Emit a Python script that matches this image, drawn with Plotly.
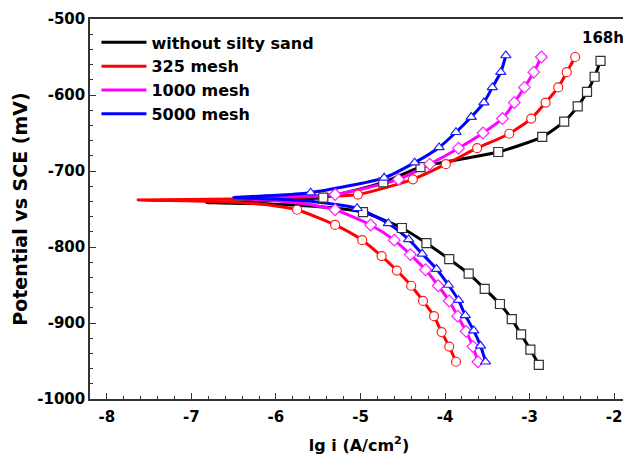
import plotly.graph_objects as go

# ---- data (lg i in A/cm^2, potential in mV vs SCE) ----
names = ["without silty sand", "325 mesh", "1000 mesh", "5000 mesh"]
colors = ["#000000", "#ff0000", "#ff00ff", "#0000ff"]
marker_colors = ["#333333", "#ff2020", "#ff20ff", "#2020ff"]
symbols = ["square", "circle", "diamond", "triangle-up"]

# full polarization lines (cathodic bottom -> Ecorr tail -> anodic top)
line_x_black = [-2.89, -2.99, -3.10, -3.21, -3.35, -3.53, -3.72, -3.95, -4.22, -4.51, -4.97, -5.2, -5.6, -6.2, -6.82,
                -6.3, -5.9, -5.44, -4.73, -4.29, -3.37, -2.85, -2.59, -2.43, -2.32, -2.23, -2.16]
line_y_black = [-955, -935, -915, -895, -875, -855, -835, -816, -795, -775, -754, -750, -746, -743, -741.5,
                -740, -738, -735, -715, -695, -675, -655, -635, -615, -596, -576, -555]

line_x_red = [-3.87, -3.95, -4.04, -4.13, -4.26, -4.40, -4.57, -4.75, -4.98, -5.30, -5.75, -6.0, -6.5, -7.63,
              -6.5, -6.0, -5.5, -5.03, -4.38, -3.99, -3.62, -3.24, -2.98, -2.81, -2.66, -2.56, -2.46]
line_y_red = [-951, -931, -912, -891, -871, -851, -831, -812, -791, -771, -751, -746, -741, -738,
              -737, -735.5, -733.5, -731, -711, -691, -670, -651, -631, -610, -590, -570, -550]

line_x_mag = [-3.61, -3.67, -3.75, -3.85, -3.95, -4.08, -4.23, -4.41, -4.60, -4.88, -5.30, -5.6, -6.0, -6.45,
              -5.9, -5.30, -4.55, -4.18, -3.84, -3.55, -3.32, -3.18, -3.06, -2.95, -2.86]
line_y_mag = [-951, -931, -911, -891, -871, -851, -830, -810, -791, -771, -751, -744, -739, -736,
              -734, -731, -711, -691, -670, -650, -631, -610, -590, -570, -550]

line_x_blue = [-3.52, -3.58, -3.66, -3.76, -3.84, -3.96, -4.10, -4.27, -4.43, -4.67, -5.04, -5.5, -6.0, -6.5,
               -6.0, -5.59, -4.72, -4.36, -4.07, -3.87, -3.69, -3.54, -3.44, -3.34, -3.28]
line_y_blue = [-951, -930, -910, -890, -870, -850, -829, -809, -790, -769, -749, -741, -737, -735,
               -732, -728.5, -709, -689, -669, -649, -629, -610, -590, -570, -548]

# marker points
mk_x_black = [-2.89, -2.99, -3.10, -3.21, -3.35, -3.53, -3.72, -3.95, -4.22, -4.51, -4.97,
              -5.44, -4.73, -4.29, -3.37, -2.85, -2.59, -2.43, -2.32, -2.23, -2.16]
mk_y_black = [-955, -935, -915, -895, -875, -855, -835, -816, -795, -775, -754,
              -735, -715, -695, -675, -655, -635, -615, -596, -576, -555]
mk_x_red = [-3.87, -3.95, -4.04, -4.13, -4.26, -4.40, -4.57, -4.75, -4.98, -5.30, -5.75,
            -5.03, -4.38, -3.99, -3.62, -3.24, -2.98, -2.81, -2.66, -2.56, -2.46]
mk_y_red = [-951, -931, -912, -891, -871, -851, -831, -812, -791, -771, -751,
            -731, -711, -691, -670, -651, -631, -610, -590, -570, -550]
mk_x_mag = [-3.61, -3.67, -3.75, -3.85, -3.95, -4.08, -4.23, -4.41, -4.60, -4.88, -5.30,
            -5.30, -4.55, -4.18, -3.84, -3.55, -3.32, -3.18, -3.06, -2.95, -2.86]
mk_y_mag = [-951, -931, -911, -891, -871, -851, -830, -810, -791, -771, -751,
            -731, -711, -691, -670, -650, -631, -610, -590, -570, -550]
mk_x_blue = [-3.52, -3.58, -3.66, -3.76, -3.84, -3.96, -4.10, -4.27, -4.43, -4.67, -5.04,
             -5.59, -4.72, -4.36, -4.07, -3.87, -3.69, -3.54, -3.44, -3.34, -3.28]
mk_y_blue = [-951, -930, -910, -890, -870, -850, -829, -809, -790, -769, -749,
             -728.5, -709, -689, -669, -649, -629, -610, -590, -570, -548]

lines = [(line_x_black, line_y_black), (line_x_red, line_y_red),
         (line_x_mag, line_y_mag), (line_x_blue, line_y_blue)]
marks = [(mk_x_black, mk_y_black), (mk_x_red, mk_y_red),
         (mk_x_mag, mk_y_mag), (mk_x_blue, mk_y_blue)]

x_ticks = [-8, -7, -6, -5, -4, -3, -2]
y_ticks = [-1000, -900, -800, -700, -600, -500]

FONT = "DejaVu Sans, Liberation Sans, Arial, sans-serif"

fig = go.Figure()
for i in range(4):
    lx, ly = lines[i]
    fig.add_trace(go.Scatter(x=lx, y=ly, mode="lines", name=names[i],
                             line=dict(color=colors[i], width=3, shape="spline", smoothing=0.6)))
for i in range(4):
    mx, my = marks[i]
    fig.add_trace(go.Scatter(x=mx, y=my, mode="markers", showlegend=False,
                             marker=dict(symbol=symbols[i], size=9, color="white",
                                         line=dict(color=marker_colors[i], width=1.2))))

# the page body adds an 8 px offset, so the figure is 8 px smaller
fig.update_layout(
    width=623, height=447,
    margin=dict(l=82, r=3, t=11, b=56),
    plot_bgcolor="white", paper_bgcolor="white",
    font=dict(family=FONT, color="black"),
    showlegend=True,
    legend=dict(x=0.012, y=0.983, xanchor="left", yanchor="top",
                bgcolor="rgba(0,0,0,0)", borderwidth=0,
                font=dict(size=16, family=FONT, weight="bold"),
                tracegroupgap=0, itemwidth=45),
    annotations=[dict(text="<b>168h</b>", x=0.997, y=0.95, xref="paper", yref="paper",
                      xanchor="right", yanchor="middle", showarrow=False,
                      font=dict(size=15, family=FONT))],
)
fig.update_xaxes(range=[-8.2, -1.835], tickvals=x_ticks, ticktext=[str(v) for v in x_ticks],
                 automargin=False, ticklabelstandoff=3,
                 ticks="inside", ticklen=6, tickwidth=1.2, tickcolor="#333",
                 minor=dict(dtick=0.2, ticks="inside", ticklen=3, tickcolor="#333", tick0=-8),
                 showline=True, linecolor="#333", linewidth=1.5, mirror=True,
                 showgrid=False, zeroline=False,
                 tickfont=dict(size=15, family=FONT, weight="bold"),
                 title=dict(text="<b>lg i (A/cm<sup>2</sup>)</b>", font=dict(size=16, family=FONT),
                            standoff=15))
fig.update_yaxes(range=[-1000, -500], tickvals=y_ticks, ticktext=[str(v) for v in y_ticks],
                 automargin=False,
                 ticks="inside", ticklen=6, tickwidth=1.2, tickcolor="#333",
                 minor=dict(dtick=20, ticks="inside", ticklen=3, tickcolor="#333", tick0=-1000),
                 showline=True, linecolor="#333", linewidth=1.5, mirror=True,
                 showgrid=False, zeroline=False,
                 tickfont=dict(size=15, family=FONT, weight="bold"),
                 title=dict(text="<b>Potential vs SCE (mV)</b>", font=dict(size=19, family=FONT),
                            standoff=5))

fig.write_html("out.html")
